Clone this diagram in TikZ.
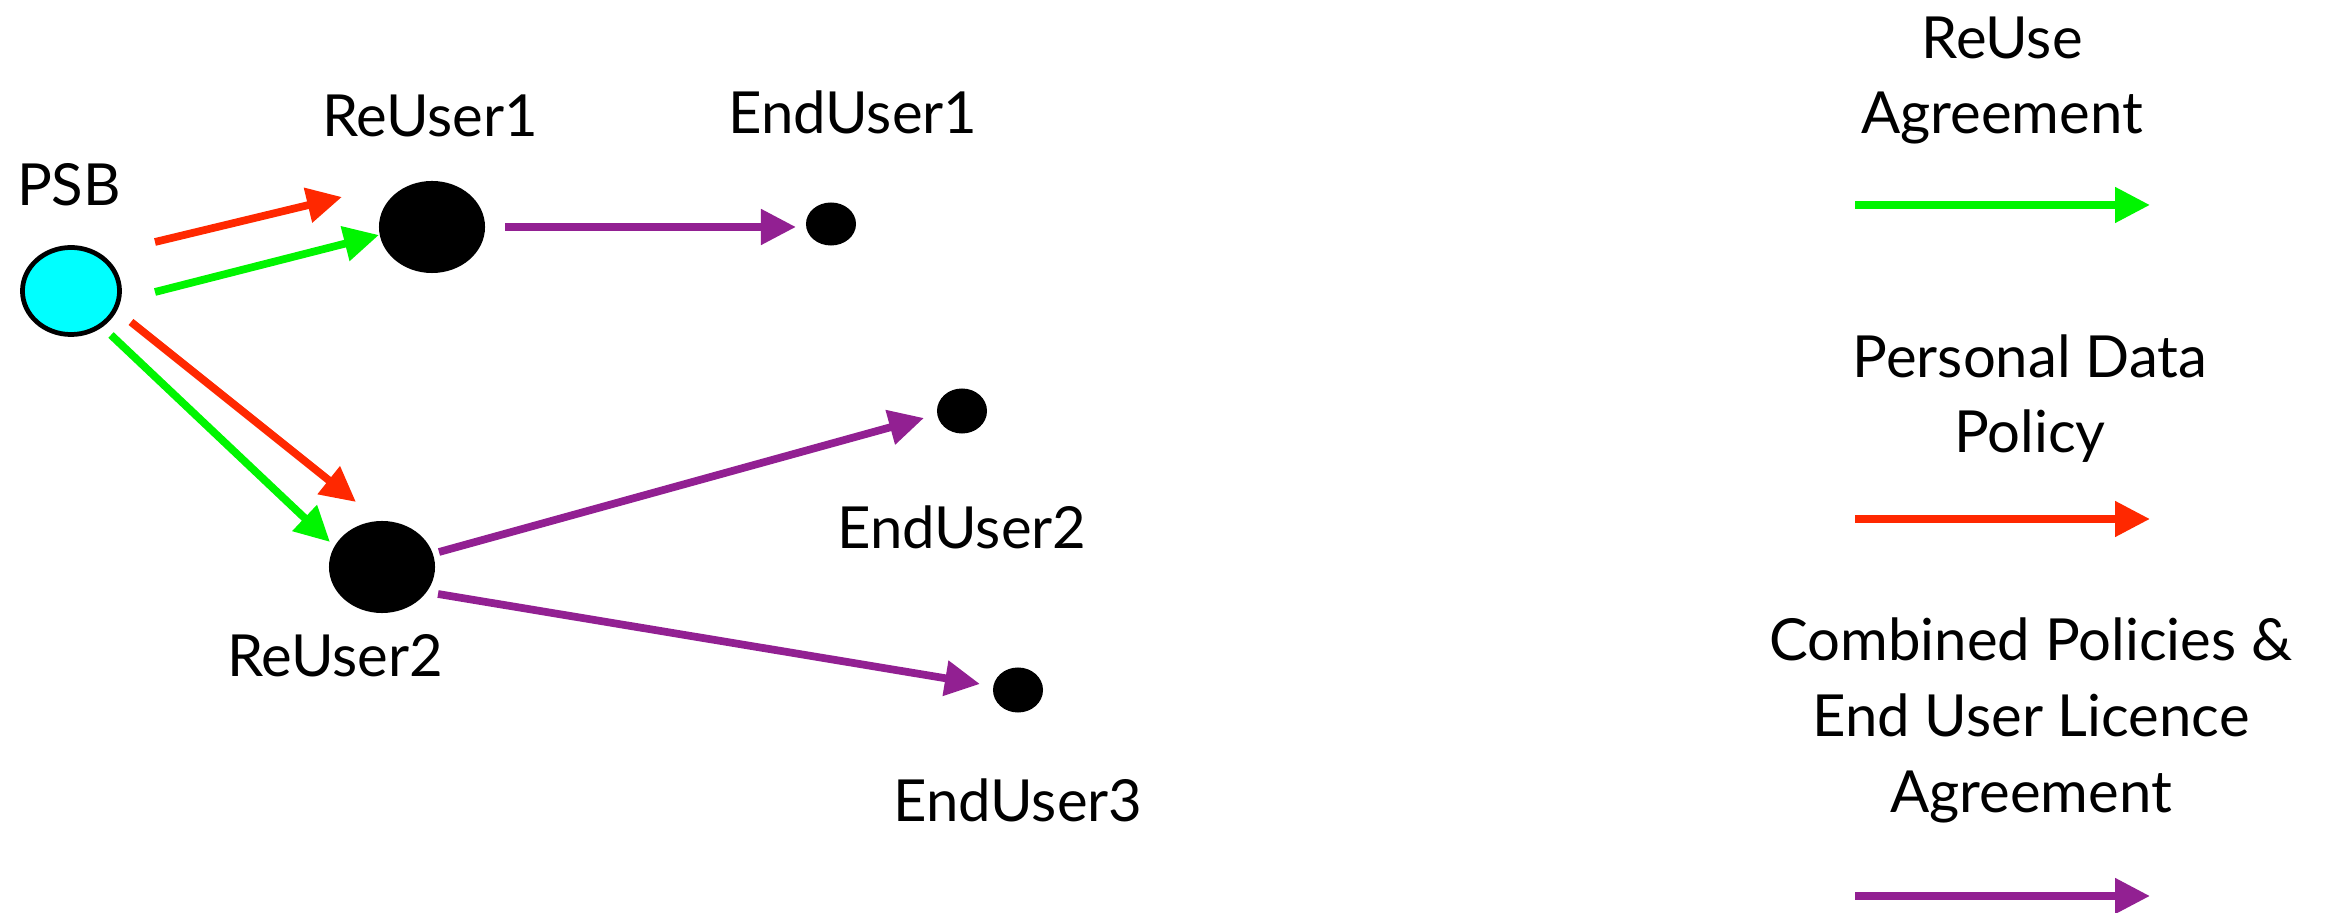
\documentclass[tikz,border=0pt]{standalone}
\usepackage{fontspec}
\setmainfont{Lato}
\usetikzlibrary{arrows.meta,shapes.geometric}
\definecolor{pred}{RGB}{255,40,0}
\definecolor{pgreen}{RGB}{0,245,0}
\definecolor{ppurple}{RGB}{146,32,146}
\definecolor{pcyan}{RGB}{0,255,255}
\tikzset{
  lbl/.style={font=\fontsize{16.5}{21.6}\selectfont, anchor=base, inner sep=0pt, align=center},
  blob/.style={ellipse, fill=black, inner sep=0pt},
  bigblob/.style={blob, minimum width=1.06cm, minimum height=0.92cm},
  smallblob/.style={blob, minimum width=0.5cm, minimum height=0.43cm},
  conn/.style={line width=2.2pt, -{Triangle[length=0.35cm,width=0.34cm]}},
  rarr/.style={conn, draw=pred, fill=pred},
  garr/.style={conn, draw=pgreen, fill=pgreen},
  parr/.style={conn, draw=ppurple, fill=ppurple},
}
\begin{document}
\begin{tikzpicture}[x=0.01cm,y=-0.01cm]
\useasboundingbox (0,0) rectangle (2327,913);
% nodes
\node[ellipse, draw=black, line width=1.35pt, fill=pcyan, minimum width=0.97cm, minimum height=0.87cm, inner sep=0pt] (psb) at (71,291) {};
\node[bigblob] (ru1) at (432,227) {};
\node[bigblob] (ru2) at (382,567) {};
\node[smallblob] (eu1) at (831,224) {};
\node[smallblob, minimum height=0.45cm] (eu2) at (962,411) {};
\node[smallblob, minimum height=0.45cm] (eu3) at (1018,690) {};
% labels
\node[lbl] (psbl) at (69,206) {PSB};
\node[lbl] (ru1l) at (430,137) {ReUser1};
\node[lbl] (eu1l) at (853,134) {EndUser1};
\node[lbl] (ru2l) at (335,677) {ReUser2};
\node[lbl] (eu2l) at (962,549) {EndUser2};
\node[lbl] (eu3l) at (1018,821) {EndUser3};
% connector end points
\coordinate (a1s) at (155,242); \coordinate (a1e) at (342,197);
\coordinate (a2s) at (155,292); \coordinate (a2e) at (379,235);
\coordinate (a3s) at (131,322); \coordinate (a3e) at (356,502);
\coordinate (a4s) at (111,335); \coordinate (a4e) at (330,542);
\coordinate (a5s) at (505,227); \coordinate (a5e) at (796,227);
\coordinate (a6s) at (439,552); \coordinate (a6e) at (924,418);
\coordinate (a7s) at (438,594); \coordinate (a7e) at (980,684);
% connectors
\draw[rarr] (a1s) -- (a1e);
\draw[garr] (a2s) -- (a2e);
\draw[rarr] (a3s) -- (a3e);
\draw[garr] (a4s) -- (a4e);
\draw[parr] (a5s) -- (a5e);
\draw[parr] (a6s) -- (a6e);
\draw[parr] (a7s) -- (a7e);
% legend
\node[lbl] (lg1) at (2002,134) {ReUse\\Agreement};
\coordinate (lg1s) at (1855,205); \coordinate (lg1e) at (2150,205);
\draw[garr] (lg1s) -- (lg1e);
\node[lbl] (lg2) at (2030,453) {Personal Data\\Policy};
\coordinate (lg2s) at (1855,519); \coordinate (lg2e) at (2150,519);
\draw[rarr] (lg2s) -- (lg2e);
\node[lbl] (lg3) at (2031,812) {Combined Policies \&\\End User Licence\\Agreement};
\coordinate (lg3s) at (1855,896); \coordinate (lg3e) at (2150,896);
\draw[parr] (lg3s) -- (lg3e);
\end{tikzpicture}
\end{document}
